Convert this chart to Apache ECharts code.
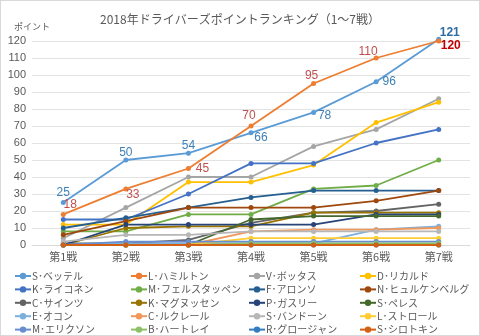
<!DOCTYPE html>
<html>
<head>
<meta charset="utf-8">
<script src="https://cdn.jsdelivr.net/npm/echarts@6/dist/echarts.min.js"></script>
<style>
  html, body { margin: 0; padding: 0; background: #fff; }
  #chart { width: 478px; height: 334px; border: 1px solid #D9D9D9; }
</style>
</head>
<body>
<div id="chart"></div>
<script>
// Race columns
const races = ['第1戦', '第2戦', '第3戦', '第4戦', '第5戦', '第6戦', '第7戦'];

// Driver names, in legend order
const drivers = [
  'S･ベッテル', 'L･ハミルトン', 'V･ボッタス', 'D･リカルド',
  'K･ライコネン', 'M･フェルスタッペン', 'F･アロンソ', 'N･ヒュルケンベルグ',
  'C･サインツ', 'K･マグヌッセン', 'P･ガスリー', 'S･ペレス',
  'E･オコン', 'C･ルクレール', 'S･バンドーン', 'L･ストロール',
  'M･エリクソン', 'B･ハートレイ', 'R･グロージャン', 'S･シロトキン'
];

// Cumulative points after each race
const vettel      = [25, 50, 54, 66, 78, 96, 121];
const hamilton    = [18, 33, 45, 70, 95, 110, 120];
const bottas      = [4, 22, 40, 40, 58, 68, 86];
const ricciardo   = [12, 12, 37, 37, 47, 72, 84];
const raikkonen   = [15, 15, 30, 48, 48, 60, 68];
const verstappen  = [8, 8, 18, 18, 33, 35, 50];
const alonso      = [10, 16, 22, 28, 32, 32, 32];
const hulkenberg  = [6, 14, 22, 22, 22, 26, 32];
const sainz       = [1, 1, 3, 13, 19, 20, 24];
const magnussen   = [0, 10, 11, 11, 19, 19, 19];
const gasly       = [0, 12, 12, 12, 12, 18, 18];
const perez       = [0, 0, 0, 15, 17, 17, 17];
const ocon        = [0, 1, 1, 1, 1, 9, 11];
const leclerc     = [0, 0, 0, 8, 9, 9, 10];
const vandoorne   = [2, 6, 6, 8, 8, 8, 8];
const stroll      = [0, 0, 0, 4, 4, 4, 4];
const ericsson    = [0, 2, 2, 2, 2, 2, 2];
const hartley     = [0, 0, 0, 1, 1, 1, 1];
const grosjean    = [0, 0, 0, 0, 0, 0, 0];
const sirotkin    = [0, 0, 0, 0, 0, 0, 0];

const values = [
  vettel, hamilton, bottas, ricciardo, raikkonen, verstappen, alonso, hulkenberg,
  sainz, magnussen, gasly, perez, ocon, leclerc, vandoorne, stroll,
  ericsson, hartley, grosjean, sirotkin
];

const colors = [
  '#5B9BD5', '#ED7D31', '#A5A5A5', '#FFC000', '#4472C4', '#70AD47',
  '#255E91', '#9E480E', '#636363', '#997300', '#264478', '#43682B',
  '#7CAFDD', '#F1975A', '#B7B7B7', '#FFCD33', '#698ED0', '#8CC168',
  '#327DC2', '#D26012'
];

const jpFont = 'Noto Sans CJK JP, sans-serif';

// Label centre relative to its point, for the two leaders
const vettelLabelOffset = [[0, -9.5], [0, -7.5], [0, -7.5], [10, 5], [11, 3], [13, 0], [11, -7]];
const hamiltonLabelOffset = [[7, -9.5], [7, 6], [14, 0], [-2, -10], [-2, -7.5], [-8, -6], [12, 5]];

function labelledData(vals, offsets, color, boldColor) {
  const last = vals.length - 1;
  return vals.map((v, i) => ({
    value: v,
    label: {
      show: true,
      position: 'inside',
      align: 'center',
      verticalAlign: 'middle',
      offset: offsets[i],
      color: i === last ? boldColor : color,
      fontWeight: i === last ? 'bold' : 'normal',
      fontSize: 12,
      textBorderWidth: 0,
      fontFamily: 'Liberation Sans, Arial, sans-serif'
    }
  }));
}

const series = drivers.map((name, i) => {
  let data = values[i];
  if (i === 0) data = labelledData(vettel, vettelLabelOffset, '#3C7FB6', '#2E6DA4');
  if (i === 1) data = labelledData(hamilton, hamiltonLabelOffset, '#C0504D', '#C00000');
  return {
    name: name,
    type: 'line',
    data: data,
    clip: false,
    symbol: 'circle',
    symbolSize: 5,
    lineStyle: { width: 1.8, color: colors[i] },
    itemStyle: { color: colors[i] },
    emphasis: { disabled: true },
    animation: false
  };
});

// Four legend columns, filled row by row
const legendCols = [0, 1, 2, 3].map(c => drivers.filter((_, i) => i % 4 === c));
const legendLeft = [13, 129, 247, 358];
const legends = legendCols.map((names, c) => ({
  data: names,
  orient: 'vertical',
  left: legendLeft[c],
  top: 269,
  height: 66,
  padding: 0,
  itemWidth: 16,
  itemHeight: 8,
  itemGap: 1.4,
  textStyle: {
    fontSize: 10,
    lineHeight: 12,
    color: '#595959',
    fontFamily: jpFont,
    padding: [0, 0, 0, -4]
  }
}));

const chart = echarts.init(document.getElementById('chart'), null, { renderer: 'canvas' });
chart.setOption({
  color: colors,
  animation: false,
  title: {
    text: '2018年ドライバーズポイントランキング（1～7戦）',
    left: 'center',
    top: 7,
    textStyle: {
      fontSize: 12,
      fontWeight: 'normal',
      color: '#595959',
      fontFamily: jpFont
    }
  },
  grid: { left: 31, right: 9, top: 40, bottom: 90, containLabel: false },
  xAxis: {
    type: 'category',
    data: races,
    boundaryGap: true,
    axisLine: { lineStyle: { color: '#D9D9D9' } },
    axisTick: { show: false },
    axisLabel: {
      color: '#595959',
      fontSize: 11,
      margin: 6,
      fontFamily: jpFont
    }
  },
  yAxis: {
    type: 'value',
    min: 0,
    max: 120,
    interval: 10,
    name: 'ポイント',
    nameLocation: 'end',
    nameGap: 10,
    nameTextStyle: {
      color: '#595959',
      fontSize: 9,
      fontFamily: jpFont
    },
    axisLine: { show: false },
    axisTick: { show: false },
    splitLine: { lineStyle: { color: '#E3E3E3', width: 1 } },
    axisLabel: {
      color: '#595959',
      fontSize: 11,
      margin: 6,
      fontFamily: 'Liberation Sans, Arial, sans-serif'
    }
  },
  legend: legends,
  series: series
});
</script>
</body>
</html>
